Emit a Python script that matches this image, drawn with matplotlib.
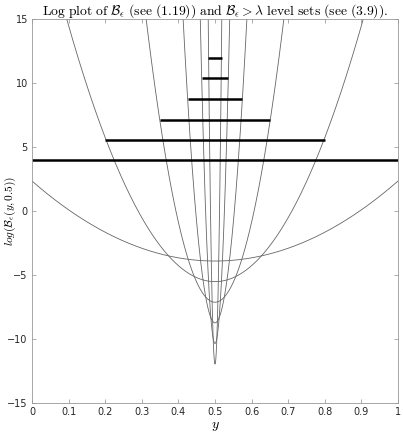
import numpy as np
import matplotlib
matplotlib.use('Agg')
import matplotlib.pyplot as plt

plt.rcParams['mathtext.fontset'] = 'cm'
plt.rcParams['font.family'] = ['DejaVu Sans']

# eps values of the plotted curves, log B_eps(y, 0.5) = (y-0.5)^2/(2 eps) + log(eps)
eps_values = [0.02, 0.004, 0.0008, 0.00016, 0.000032, 0.0000064]
x0 = 0.5

# level-set segments: height and [left, right] extent
levels = [3.95, 5.53, 7.13, 8.74, 10.36, 11.96]
level_left = [0.0, 0.2, 0.35, 0.426, 0.464, 0.482]
level_right = [1.0, 0.8, 0.65, 0.574, 0.536, 0.518]

fig = plt.figure(figsize=(4.03, 4.33), dpi=100)
ax = fig.add_axes([0.0794, 0.0693, 0.9082, 0.887])

y = np.linspace(0, 1, 40001)
for eps in eps_values:
    logB = (y - x0) ** 2 / (2 * eps) + np.log(eps)
    ax.plot(y, logB, color='0.4', lw=0.6)

for lam, lo, hi in zip(levels, level_left, level_right):
    ax.plot([lo, hi], [lam, lam], color='black', lw=1.8, solid_capstyle='butt')

ax.set_xlim(0, 1)
ax.set_ylim(-15, 15)
ax.set_xticks(np.arange(0, 1.01, 0.1))
ax.set_xticklabels(['0', '0.1', '0.2', '0.3', '0.4', '0.5', '0.6', '0.7', '0.8', '0.9', '1'])
ax.set_yticks([-15, -10, -5, 0, 5, 10, 15])
ax.tick_params(direction='in', top=True, right=True, labelsize=7, length=3,
               width=0.5, colors='0.55', labelcolor='0.15', pad=3)
for s in ax.spines.values():
    s.set_color('0.6')
    s.set_linewidth(0.6)

ax.set_title(r'$\mathrm{Log\ plot\ of\ }\mathcal{B}_\epsilon\mathrm{\ (see\ (1.19))\ and\ }'
             r'\mathcal{B}_\epsilon > \lambda\mathrm{\ level\ sets\ (see\ (3.9)).}$',
             fontsize=9.8, pad=3)
ax.set_xlabel(r'$y$', fontsize=10, labelpad=1)
ax.set_ylabel(r'$log(\mathcal{B}_\epsilon(y,0.5))$', fontsize=8.2)
ax.yaxis.set_label_coords(-0.038, 0.5)

fig.savefig('out.png', dpi=100)
